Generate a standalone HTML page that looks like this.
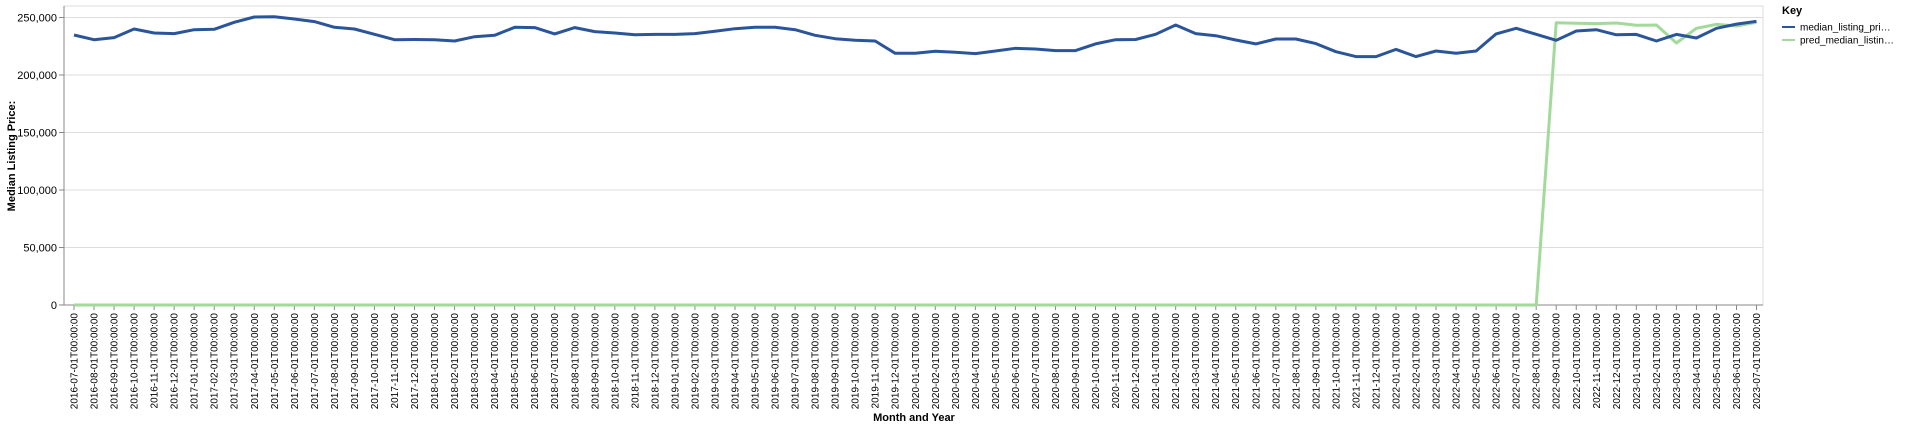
<!DOCTYPE html>
<html><head><meta charset="utf-8"><style>
body{margin:0;background:#fff;font-family:"Liberation Sans",sans-serif;}
svg text{font-family:"Liberation Sans",sans-serif;}
</style></head><body>
<svg id="chart" width="1920" height="429"></svg>
<script>
const categories = [];
for (let y = 2016, m = 7; categories.length < 85; m++) { if (m > 12) { m = 1; y++; } categories.push(y + '-' + String(m).padStart(2,'0') + '-01T00:00:00'); }
const actualValues = [234800,230700,232500,240000,236500,236000,239400,239700,245800,250400,250700,248700,246400,241500,240000,235400,230700,230900,230700,229600,233300,234500,241500,241200,235700,241200,237700,236500,235000,235300,235300,236000,238000,240300,241500,241500,239400,234500,231600,230200,229600,218900,218900,220600,219700,218600,220900,223200,222600,221200,221200,227000,230700,230900,235400,243500,236000,234200,230400,227000,231300,231300,227300,220300,216000,216000,222300,216000,220900,218900,220900,235700,240600,235400,230200,238300,239400,235000,235300,229600,235300,232200,240600,244300,246700];
const predValues = [0,0,0,0,0,0,0,0,0,0,0,0,0,0,0,0,0,0,0,0,0,0,0,0,0,0,0,0,0,0,0,0,0,0,0,0,0,0,0,0,0,0,0,0,0,0,0,0,0,0,0,0,0,0,0,0,0,0,0,0,0,0,0,0,0,0,0,0,0,0,0,0,0,0,245500,245000,244700,245200,243200,243500,227800,240600,244000,242600,245800];
const yTicks = [0,50000,100000,150000,200000,250000];
const yTickLabels = ['0','50,000','100,000','150,000','200,000','250,000'];

const svg = document.getElementById('chart');
const NS = 'http://www.w3.org/2000/svg';
const L = 64, R = 1763, T = 6, B = 305;
const x0 = 74, step = 20.03;
function xs(i){ return x0 + i * step; }
function ys(v){ return B - v / 250000 * 287.5; }
function mk(tag, attrs, parent){ const e = document.createElementNS(NS, tag); for (const k in attrs) e.setAttribute(k, attrs[k]); (parent||svg).appendChild(e); return e; }

const frame = mk('rect',{x:L,y:T,width:R-L,height:B-T,fill:'none',stroke:'#ddd'});



yTicks.forEach((v,i)=>{
  const g = mk('line',{x1:L,x2:R,y1:ys(v),y2:ys(v),stroke:'#ddd'});
  
  
  mk('line',{x1:L-5,x2:L,y1:ys(v),y2:ys(v),stroke:'#888'});
  const t = mk('text',{x:L-7,y:ys(v)+4,'text-anchor':'end','font-size':'11',fill:'#000'});
  t.textContent = yTickLabels[i];
  
  
});
const ya = mk('line',{x1:L,x2:L,y1:T,y2:B,stroke:'#888'});


const xa = mk('line',{x1:L,x2:R,y1:B,y2:B,stroke:'#888'});



categories.forEach((c,i)=>{
  mk('line',{x1:xs(i),x2:xs(i),y1:B,y2:B+5,stroke:'#888'});
  const t = mk('text',{transform:`translate(${xs(i)+3.5},${B+8}) rotate(-90)`,'text-anchor':'end','font-size':'10',fill:'#000'});
  t.textContent = c;
  
  
});

function line(vals,color,name){
  const p = mk('path',{d:vals.map((v,i)=>(i?'L':'M')+xs(i).toFixed(1)+','+ys(v).toFixed(1)).join(''),fill:'none',stroke:color,'stroke-width':3,'stroke-linejoin':'round'});
  
  
}
line(predValues,'#a3d99b','pred-median-listing-price-line');
line(actualValues,'#2b559a','median-listing-price-line');

const yt = mk('text',{transform:'translate(15,156) rotate(-90)','text-anchor':'middle','font-size':'11','font-weight':'bold'});
yt.textContent = 'Median Listing Price:';


const xt = mk('text',{x:914,y:421,'text-anchor':'middle','font-size':'11','font-weight':'bold'});
xt.textContent = 'Month and Year';



const kt = mk('text',{x:1782,y:14,'font-size':'11','font-weight':'bold'});
kt.textContent = 'Key';


[['#2b559a','median_listing_pri…','legend-entry-median'],['#a3d99b','pred_median_listin…','legend-entry-pred']].forEach((e,i)=>{
  const yy = 27 + i*13;
  mk('line',{x1:1782,x2:1795,y1:yy,y2:yy,stroke:e[0],'stroke-width':2});
  const t = mk('text',{x:1800,y:yy+3.5,'font-size':'10'});
  t.textContent = e[1];
  
  
});
</script>
</body></html>
